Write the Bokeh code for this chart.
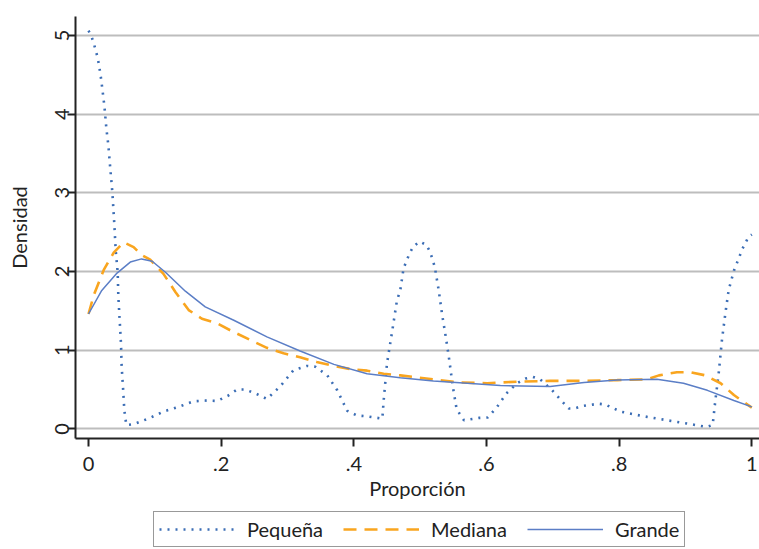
from bokeh.plotting import figure
from bokeh.models import Range1d, FixedTicker, Legend, LegendItem
from bokeh.layouts import column
from bokeh.embed import file_html
from bokeh.resources import INLINE

# ---- data ----
x_pequena = [0.0, 0.004, 0.008, 0.014, 0.018, 0.021, 0.024, 0.027, 0.030, 0.032,
             0.034, 0.036, 0.039, 0.041, 0.044, 0.045, 0.047, 0.049, 0.050, 0.052,
             0.054, 0.057, 0.068, 0.09, 0.113, 0.136, 0.158, 0.175, 0.194, 0.21,
             0.224, 0.236, 0.252, 0.269, 0.289, 0.309, 0.329, 0.342, 0.36, 0.375,
             0.39, 0.405, 0.42, 0.443, 0.445, 0.45, 0.458, 0.465, 0.47, 0.475,
             0.484, 0.49, 0.499, 0.509, 0.515, 0.522, 0.528, 0.533, 0.539, 0.544,
             0.549, 0.555, 0.566, 0.589, 0.602, 0.616, 0.63, 0.646, 0.659, 0.67,
             0.681, 0.699, 0.715, 0.724, 0.733, 0.744, 0.769, 0.779, 0.802, 0.837,
             0.872, 0.908, 0.932, 0.941, 0.945, 0.95, 0.955, 0.96, 0.965, 0.973,
             0.98, 0.986, 0.995, 1.0]
y_pequena = [5.06, 5.0, 4.90, 4.71, 4.51, 4.31, 4.10, 3.81, 3.60, 3.39,
             3.20, 3.0, 2.59, 2.27, 1.99, 1.68, 1.38, 1.08, 0.79, 0.53,
             0.24, 0.05, 0.06, 0.13, 0.22, 0.28, 0.35, 0.36, 0.355, 0.42,
             0.50, 0.50, 0.45, 0.38, 0.54, 0.745, 0.80, 0.79, 0.68, 0.49,
             0.23, 0.17, 0.16, 0.13, 0.36, 0.83, 1.25, 1.63, 1.76, 2.04,
             2.23, 2.32, 2.38, 2.34, 2.25, 2.06, 1.76, 1.46, 1.15, 0.87,
             0.55, 0.25, 0.11, 0.14, 0.145, 0.28, 0.45, 0.58, 0.64, 0.66,
             0.63, 0.49, 0.34, 0.26, 0.26, 0.29, 0.32, 0.31, 0.22, 0.16,
             0.11, 0.06, 0.025, 0.05, 0.36, 0.70, 1.13, 1.46, 1.76, 2.01,
             2.16, 2.29, 2.44, 2.47]

x_mediana = [0.0, 0.008, 0.023, 0.038, 0.053, 0.068, 0.08, 0.093, 0.113, 0.131,
             0.151, 0.171, 0.194, 0.219, 0.244, 0.269, 0.294, 0.319, 0.344, 0.37,
             0.395, 0.42, 0.445, 0.47, 0.52, 0.56, 0.601, 0.646, 0.696, 0.747,
             0.797, 0.842, 0.86, 0.887, 0.908, 0.93, 0.953, 0.973, 1.0]
y_mediana = [1.46, 1.70, 2.02, 2.24, 2.37, 2.31, 2.21, 2.15, 1.97, 1.74,
             1.51, 1.40, 1.34, 1.23, 1.13, 1.03, 0.96, 0.91, 0.85, 0.80,
             0.76, 0.74, 0.70, 0.68, 0.63, 0.59, 0.58, 0.60, 0.61, 0.61,
             0.62, 0.63, 0.68, 0.72, 0.72, 0.68, 0.58, 0.43, 0.27]

x_grande = [0.0, 0.02, 0.043, 0.063, 0.08, 0.096, 0.116, 0.146, 0.176, 0.219,
            0.269, 0.319, 0.37, 0.42, 0.47, 0.52, 0.571, 0.621, 0.696, 0.747,
            0.797, 0.857, 0.897, 0.933, 0.973, 1.0]
y_grande = [1.46, 1.76, 1.98, 2.12, 2.16, 2.13, 1.99, 1.75, 1.55, 1.38,
            1.17, 0.99, 0.82, 0.70, 0.65, 0.61, 0.58, 0.55, 0.54, 0.59,
            0.62, 0.63, 0.58, 0.49, 0.36, 0.28]

x_ticks = [0, 0.2, 0.4, 0.6, 0.8, 1]
x_tick_labels = ["0", ".2", ".4", ".6", ".8", "1"]
y_ticks = [0, 1, 2, 3, 4, 5]

series_names = ["Pequeña", "Mediana", "Grande"]
series_x = [x_pequena, x_mediana, x_grande]
series_y = [y_pequena, y_mediana, y_grande]
x_title = "Proporción"
y_title = "Densidad"

FONT = "Lato"
INK = "#222222"
STYLES = [dict(line_color="#3b6db5", line_width=2.6, line_dash="2 6"),
          dict(line_color="#f9a51f", line_width=2.6, line_dash="13 8"),
          dict(line_color="#5b7ec6", line_width=1.5)]

p = figure(width=759, height=510, output_backend="svg", toolbar_location=None,
           x_range=Range1d(-0.0196, 1.0116), y_range=Range1d(-0.122, 5.24),
           min_border_left=75, min_border_right=0, min_border_top=16,
           min_border_bottom=72)
p.outline_line_color = None
p.background_fill_color = "white"
p.border_fill_color = "white"

for xs, ys, st in zip(series_x, series_y, STYLES):
    p.line(xs, ys, **st)

p.xgrid.visible = False
p.ygrid.grid_line_color = "#bdbdbd"
p.ygrid.grid_line_width = 2

for ax in (p.xaxis[0], p.yaxis[0]):
    ax.axis_line_color = INK
    ax.axis_line_width = 2
    ax.major_tick_line_color = INK
    ax.major_tick_line_width = 2
    ax.major_tick_out = 8
    ax.major_tick_in = 0
    ax.minor_tick_line_color = None
    ax.major_label_text_font = FONT
    ax.major_label_text_font_size = "20px"
    ax.major_label_text_color = INK
    ax.axis_label_text_font = FONT
    ax.axis_label_text_font_size = "20px"
    ax.axis_label_text_font_style = "normal"
    ax.axis_label_text_color = INK

p.xaxis.ticker = FixedTicker(ticks=x_ticks)
p.xaxis.major_label_overrides = {t: l for t, l in zip(x_ticks, x_tick_labels)}
p.xaxis.axis_label = x_title
p.xaxis.major_label_standoff = 10
p.xaxis.axis_label_standoff = 2

p.yaxis.ticker = FixedTicker(ticks=y_ticks)
p.yaxis.major_label_orientation = "vertical"
p.yaxis.axis_label = y_title
p.yaxis.major_label_standoff = -2
p.yaxis.axis_label_standoff = 22

# ---- legend strip below the chart (hidden copies of the series feed it) ----
q = figure(width=759, height=39, output_backend="svg", toolbar_location=None,
           x_range=Range1d(0, 1), y_range=Range1d(0, 1),
           x_axis_type=None, y_axis_type=None, min_border=0)
q.outline_line_color = None
q.grid.visible = False
q.background_fill_color = "white"
q.border_fill_color = "white"
proxies = [q.line(xs, ys, visible=False, **st)
           for xs, ys, st in zip(series_x, series_y, STYLES)]

legend = Legend(items=[LegendItem(label=n, renderers=[r])
                       for n, r in zip(series_names, proxies)],
                orientation="horizontal", location=(78, 2))
legend.label_text_font = FONT
legend.label_text_font_size = "20px"
legend.label_text_color = INK
legend.glyph_width = 76
legend.glyph_height = 18
legend.label_height = 18
legend.label_standoff = 12
legend.spacing = 20
legend.padding = 5
legend.margin = 0
legend.border_line_color = "#333333"
legend.border_line_width = 1.5
legend.background_fill_color = "white"
q.add_layout(legend, "center")

open("out.html", "w").write(file_html(column(p, q, spacing=0), INLINE))
